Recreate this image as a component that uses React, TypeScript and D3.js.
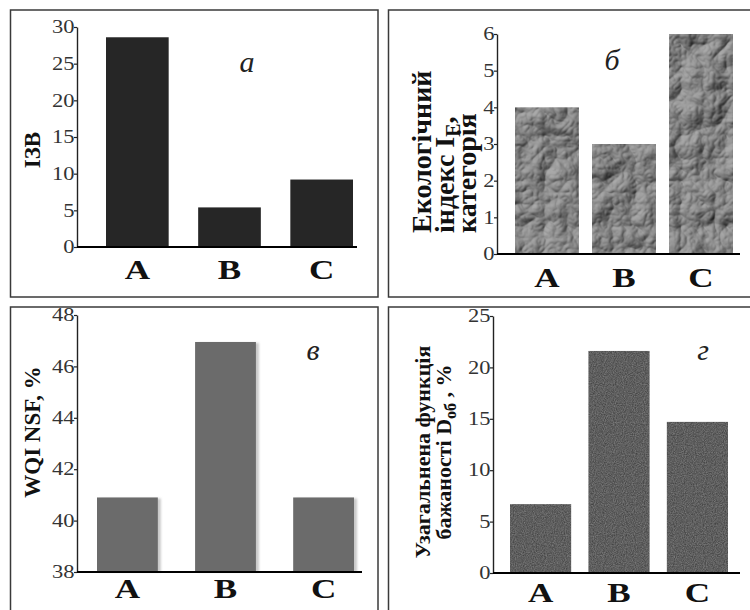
import React, { useEffect, useRef } from "react";
import * as d3 from "d3";

const categories = ["A", "B", "C"];
const izvValues = [28.6, 5.4, 9.2];
const ecoIndexValues = [4, 3, 6];
const wqiValues = [40.9, 46.95, 40.9];
const desirabilityValues = [6.7, 21.6, 14.7];

const izvTicks = [0, 5, 10, 15, 20, 25, 30];
const ecoTicks = [0, 1, 2, 3, 4, 5, 6];
const wqiTicks = [38, 40, 42, 44, 46, 48];
const desirTicks = [0, 5, 10, 15, 20, 25];

const panelLetters = ["а", "б", "в", "г"];

const SERIF = "'Liberation Serif', 'Times New Roman', serif";

type Panel = {
  frame: [number, number, number, number];
  values: number[];
  ticks: number[];
  yDomain: [number, number];
  yRange: [number, number];
  axisX: number;
  axisEnd: number;
  bandRange: [number, number];
  padInner: number;
  catBaseline: number;
  letter: string;
  letterPos: [number, number];
  fill: string;
  filter?: string;
  shadow?: boolean;
};

const panels: Panel[] = [
  {
    frame: [10.5, 10, 378, 297],
    values: izvValues, ticks: izvTicks, yDomain: [0, 30], yRange: [247, 27],
    axisX: 77, axisEnd: 357, bandRange: [106, 353], padInner: 0.32,
    catBaseline: 279, letter: panelLetters[0], letterPos: [247, 72], fill: "#262626",
  },
  {
    frame: [388.5, 10, 751, 297],
    values: ecoIndexValues, ticks: ecoTicks, yDomain: [0, 6], yRange: [254, 34],
    axisX: 497, axisEnd: 740, bandRange: [515, 733], padInner: 0.17,
    catBaseline: 287, letter: panelLetters[1], letterPos: [612, 70], fill: "#8a8a8a", filter: "url(#crumple)",
  },
  {
    frame: [10.5, 307, 378, 620],
    values: wqiValues, ticks: wqiTicks, yDomain: [38, 48], yRange: [572, 315],
    axisX: 77, axisEnd: 362, bandRange: [97, 354], padInner: 0.38,
    catBaseline: 598, letter: panelLetters[2], letterPos: [313, 360], fill: "#6b6b6b", shadow: true,
  },
  {
    frame: [388.5, 307, 751, 620],
    values: desirabilityValues, ticks: desirTicks, yDomain: [0, 25], yRange: [573, 316],
    axisX: 493, axisEnd: 740, bandRange: [510, 728], padInner: 0.22,
    catBaseline: 602, letter: panelLetters[3], letterPos: [703, 360], fill: "#5c5c5c", filter: "url(#grain)",
  },
];

function drawPanel(svg: any, p: Panel) {
  const g = svg.append("g");
  const [fx0, fy0, fx1, fy1] = p.frame;
  g.append("rect")
    .attr("x", fx0).attr("y", fy0)
    .attr("width", fx1 - fx0).attr("height", fy1 - fy0)
    .attr("fill", "none").attr("stroke", "#3a3a3a").attr("stroke-width", 1.5);

  const x = d3.scaleBand().domain(categories).range(p.bandRange).paddingInner(p.padInner).paddingOuter(0);
  const y = d3.scaleLinear().domain(p.yDomain).range(p.yRange);
  const base = p.yRange[0];

  if (p.shadow) {
    g.append("g").selectAll("rect")
      .data(p.values)
      .join("rect")
      .attr("x", (d: number, i: number) => (x(categories[i]) as number) + 3)
      .attr("y", (d: number) => y(d) + 1)
      .attr("width", x.bandwidth())
      .attr("height", (d: number) => base - y(d) - 1)
      .attr("fill", "#c9c9c9")
      .attr("filter", "url(#soft)");
  }

  g.append("g").selectAll("rect")
    .data(p.values)
    .join("rect")
    .attr("x", (d: number, i: number) => x(categories[i]) as number)
    .attr("y", (d: number) => y(d))
    .attr("width", x.bandwidth())
    .attr("height", (d: number) => base - y(d))
    .attr("fill", p.fill)
    .attr("filter", p.filter || null);

  // y axis
  const axis = d3.axisLeft(y)
    .tickValues(p.ticks)
    .tickFormat(d3.format("d"))
    .tickSize(3).tickPadding(-1).tickSizeOuter(0);
  const ga = g.append("g").attr("transform", `translate(${p.axisX},0)`).call(axis);
  ga.select(".domain").attr("stroke", "#222").attr("stroke-width", 1.4);
  ga.selectAll(".tick line").attr("stroke", "#222").attr("stroke-width", 1.2);
  ga.selectAll(".tick text")
    .attr("font-family", SERIF)
    .attr("font-size", 18)
    .attr("fill", "#333")
    .attr("transform", "scale(1.25,1)");

  // x baseline
  g.append("line")
    .attr("x1", p.axisX).attr("x2", p.axisEnd)
    .attr("y1", base).attr("y2", base)
    .attr("stroke", "#000").attr("stroke-width", 2);

  // category labels
  g.append("g").selectAll("text")
    .data(categories)
    .join("text")
    .attr("transform", (d: string) => `translate(${(x(d) as number) + x.bandwidth() / 2},${p.catBaseline}) scale(1.3,1)`)
    .attr("text-anchor", "middle")
    .attr("font-family", SERIF)
    .attr("font-weight", "bold")
    .attr("font-size", 27)
    .attr("fill", "#111")
    .text((d: string) => d);

  // panel letter
  g.append("text")
    .attr("x", p.letterPos[0]).attr("y", p.letterPos[1])
    .attr("text-anchor", "middle")
    .attr("font-family", SERIF)
    .attr("font-style", "italic")
    .attr("font-size", 30)
    .attr("fill", "#222")
    .text(p.letter);
}

function rotLabel(svg: any, x: number, y: number, size: number, anchor: string) {
  return svg.append("text")
    .attr("transform", `translate(${x},${y}) rotate(-90)`)
    .attr("text-anchor", anchor)
    .attr("font-family", SERIF)
    .attr("font-weight", "bold")
    .attr("font-size", size)
    .attr("fill", "#111");
}

export default function App() {
  const ref = useRef<SVGSVGElement>(null);

  useEffect(() => {
    const svg = d3.select(ref.current);
    svg.selectAll("*").remove();

    const defs = svg.append("defs");
    // crumpled-paper look for panel б
    const crumple = defs.append("filter").attr("id", "crumple")
      .attr("x", 0).attr("y", 0).attr("width", 1).attr("height", 1)
      .attr("color-interpolation-filters", "sRGB");
    crumple.append("feTurbulence")
      .attr("type", "turbulence").attr("baseFrequency", 0.022)
      .attr("numOctaves", 4).attr("seed", 11).attr("result", "noise");
    const light = crumple.append("feDiffuseLighting")
      .attr("in", "noise").attr("lighting-color", "#ababab")
      .attr("surfaceScale", 5).attr("result", "lit");
    light.append("feDistantLight").attr("azimuth", 225).attr("elevation", 50);
    crumple.append("feComposite").attr("in", "lit").attr("in2", "SourceGraphic").attr("operator", "in");

    // fine grain for panel г
    const grain = defs.append("filter").attr("id", "grain")
      .attr("x", 0).attr("y", 0).attr("width", 1).attr("height", 1)
      .attr("color-interpolation-filters", "sRGB");
    grain.append("feTurbulence")
      .attr("type", "fractalNoise").attr("baseFrequency", 0.9)
      .attr("numOctaves", 2).attr("seed", 3).attr("result", "n");
    grain.append("feColorMatrix").attr("in", "n").attr("type", "matrix")
      .attr("values", "0.3 0 0 0 0.22  0.3 0 0 0 0.22  0.3 0 0 0 0.22  0 0 0 0 1")
      .attr("result", "g");
    grain.append("feComposite").attr("in", "g").attr("in2", "SourceGraphic").attr("operator", "in");

    defs.append("filter").attr("id", "soft")
      .append("feGaussianBlur").attr("stdDeviation", 1.2);

    panels.forEach(p => drawPanel(svg, p));

    // y-axis titles
    rotLabel(svg, 40, 150, 23, "middle").text("ІЗВ");

    rotLabel(svg, 431, 233, 28, "start").text("Екологічний");
    const l2 = rotLabel(svg, 454, 233, 28, "start");
    l2.append("tspan").text("індекс I");
    l2.append("tspan").attr("dy", 6).attr("font-size", 20).text("E");
    l2.append("tspan").attr("dy", -6).text(",");
    rotLabel(svg, 476, 233, 28, "start").text("категорія");

    rotLabel(svg, 40, 432, 23, "middle").text("WQI NSF, %");

    rotLabel(svg, 430, 452, 22, "middle").text("Узагальнена функція");
    const d2 = rotLabel(svg, 451, 452, 22, "middle");
    d2.append("tspan").text("бажаності D");
    d2.append("tspan").attr("dy", 5).attr("font-size", 16).text("об");
    d2.append("tspan").attr("dy", -5).text(" , %");
  }, []);

  return (
    <div style={{ position: "absolute", left: 0, top: 0, width: 750, height: 610, background: "#fff" }}>
      <svg ref={ref} width={750} height={610} viewBox="0 0 750 610" style={{ display: "block" }} />
    </div>
  );
}
